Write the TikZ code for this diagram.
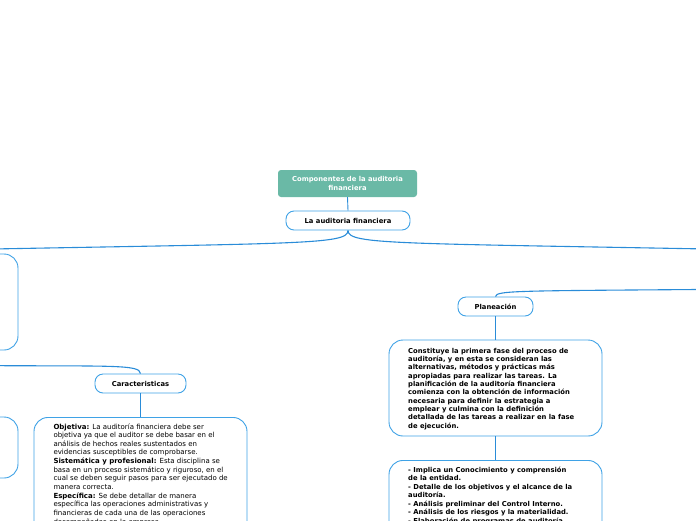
\documentclass[tikz,border=0pt]{standalone}
\usepackage{fontspec}
\setmainfont{DejaVu Sans}
\definecolor{boxblue}{HTML}{3FA2E6}
\definecolor{lineblue}{HTML}{2A8CD8}
\definecolor{titleteal}{HTML}{6AB9A6}
\tikzset{
  pill/.style={draw=boxblue, line width=0.9pt, rounded corners=8pt, fill=white,
    font=\fontsize{6.8}{8.5}\selectfont\bfseries, minimum height=19pt, inner sep=0pt},
  bigbox/.style={draw=boxblue, line width=0.9pt, rounded corners=14pt, fill=white, inner sep=0pt},
  txt/.style={align=left, inner sep=0pt, anchor=north west},
  conn/.style={draw=lineblue, line width=1.1pt},
}
\begin{document}
\begin{tikzpicture}[x=1pt,y=-1pt]
\useasboundingbox (0,0) rectangle (696,520);
\clip (0,0) rectangle (696,520);

% title and root
\node[fill=titleteal, rounded corners=3pt, minimum width=139pt, minimum height=27pt,
  text=white, align=center, inner sep=0pt,
  font=\fontsize{6.8}{8.8}\selectfont\bfseries] (title) at (347.5,183.5)
  {Componentes de la auditoria\\financiera};
\node[pill, minimum width=124pt] (laf) at (348,220.5) {La auditoria financiera};

% off-screen boxes
\node[bigbox, minimum width=200pt, minimum height=96pt] (leftbox) at (-82,302) {};
\node[bigbox, minimum width=200pt, minimum height=61pt] (leftsmall) at (-82,447.5) {};
\coordinate (rightparent) at (760,289);
\coordinate (leftout) at (-60,250);
\coordinate (rightout) at (760,250);
\coordinate (leftsrc) at (-30,365.5);

% characteristics branch
\node[pill, minimum width=91pt] (car) at (140.5,383.5) {Caracteristicas};
\node[bigbox, minimum width=213pt, minimum height=150pt, anchor=north] (obj) at (140.5,417) {};
\node[txt, font=\fontsize{7.0}{8.65}\selectfont] (objtxt) at (53.3,423.2)
  {\textbf{Objetiva:} La auditoría financiera debe ser\\
   objetiva ya que el auditor se debe basar en el\\
   análisis de hechos reales sustentados en\\
   evidencias susceptibles de comprobarse.\\
   \textbf{Sistemática y profesional:} Esta disciplina se\\
   basa en un proceso sistemático y riguroso, en el\\
   cual se deben seguir pasos para ser ejecutado de\\
   manera correcta.\\
   \textbf{Específica:} Se debe detallar de manera\\
   específica las operaciones administrativas y\\
   financieras de cada una de las operaciones\\
   desempeñadas en la empresa.};

% planning branch
\node[pill, minimum width=75pt] (plan) at (495.5,306.5) {Planeación};
\node[bigbox, minimum width=213pt, minimum height=96pt] (plantxtbox) at (495.5,388) {};
\node[txt, font=\fontsize{6.8}{8.35}\selectfont\bfseries] (plantxt) at (408,347.8)
  {Constituye la primera fase del proceso de\\
   auditoría, y en esta se consideran las\\
   alternativas, métodos y prácticas más\\
   apropiadas para realizar las tareas. La\\
   planificación de la auditoría financiera\\
   comienza con la obtención de información\\
   necesaria para definir la estrategia a\\
   emplear y culmina con la definición\\
   detallada de las tareas a realizar en la fase\\
   de ejecución.};
\node[bigbox, minimum width=213pt, minimum height=120pt, anchor=north] (bullets) at (495.5,460) {};
\node[txt, font=\fontsize{6.8}{8.45}\selectfont\bfseries] (bultxt) at (408,466.8)
  {- Implica un Conocimiento y comprensión\\
   de la entidad.\\
   - Detalle de los objetivos y el alcance de la\\
   auditoría.\\
   - Análisis preliminar del Control Interno.\\
   - Análisis de los riesgos y la materialidad.\\
   - Elaboración de programas de auditoría.};

% connectors
\draw[conn, line width=0.9pt] (title.south) -- (laf.north);
\draw[conn] (laf.south) .. controls (348,245) and (300,243) .. (leftout);
\draw[conn] (laf.south) .. controls (348,245) and (396,243) .. (rightout);
\draw[conn] (leftsrc) .. controls (110,366.5) and (140,364) .. (car.north);
\draw[conn] (rightparent) .. controls (520,291) and (496,290) .. (plan.north);
\draw[conn] (car.south) -- (obj.north);
\draw[conn] (plan.south) -- (plantxtbox.north);
\draw[conn] (plantxtbox.south) -- (bullets.north);
\end{tikzpicture}
\end{document}
